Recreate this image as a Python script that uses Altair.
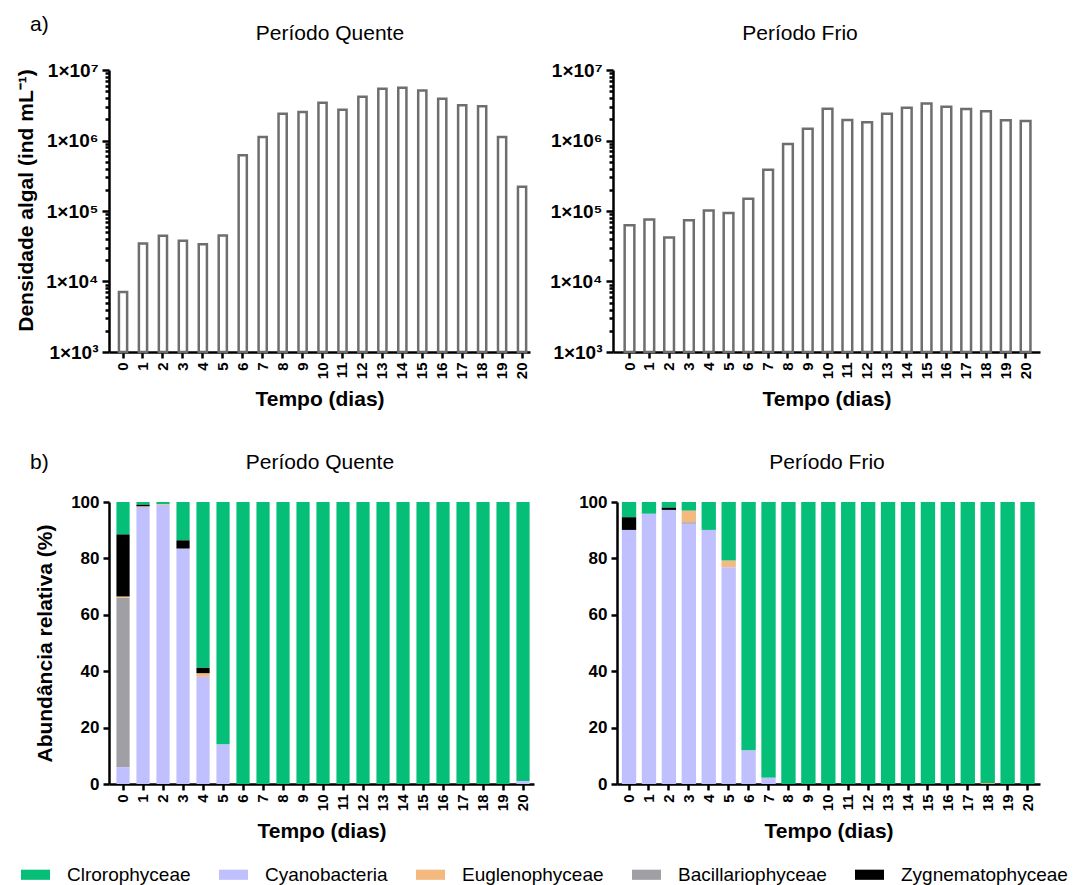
import altair as alt
import pandas as pd

FONT = "Liberation Sans"

# ---------------- data ----------------
dias = list(range(21))

densidade_quente = [7.1e3, 3.45e4, 4.45e4, 3.77e4, 3.38e4, 4.5e4, 6.2e5, 1.12e6, 2.4e6, 2.53e6,
                    3.44e6, 2.73e6, 4.18e6, 5.43e6, 5.61e6, 5.14e6, 3.92e6, 3.15e6, 3.05e6,
                    1.12e6, 2.2e5]
densidade_frio = [6.3e4, 7.6e4, 4.2e4, 7.4e4, 1.02e5, 9.4e4, 1.49e5, 3.85e5, 8.9e5, 1.47e6,
                  2.82e6, 1.95e6, 1.81e6, 2.4e6, 2.92e6, 3.36e6, 3.02e6, 2.79e6, 2.59e6,
                  1.93e6, 1.89e6]

grupos = ["Clrorophyceae", "Cyanobacteria", "Euglenophyceae", "Bacillariophyceae", "Zygnematophyceae"]
cores = ["#05BE78", "#C0C0FF", "#F4B97E", "#A0A0A4", "#000000"]
ordem_pilha = ["Cyanobacteria", "Bacillariophyceae", "Euglenophyceae", "Zygnematophyceae", "Clrorophyceae"]

q_chloro = [11.5, 1.0, 0.7, 13.6, 58.8, 86.0, 100, 100, 100, 100, 100, 100, 100, 100, 100, 100,
            100, 100, 100, 100, 99.0]
q_cyano = [6.0, 98.2, 99.0, 83.5, 38.0, 14.0, 0, 0, 0, 0, 0, 0, 0, 0, 0, 0, 0, 0, 0, 0, 1.0]
q_eugle = [0.5, 0.3, 0.3, 0, 1.3, 0, 0, 0, 0, 0, 0, 0, 0, 0, 0, 0, 0, 0, 0, 0, 0]
q_bacil = [60.0, 0, 0, 0, 0, 0, 0, 0, 0, 0, 0, 0, 0, 0, 0, 0, 0, 0, 0, 0, 0]
q_zygne = [22.0, 0.5, 0, 2.9, 1.9, 0, 0, 0, 0, 0, 0, 0, 0, 0, 0, 0, 0, 0, 0, 0, 0]

f_chloro = [5.4, 4.2, 2.0, 3.1, 9.9, 20.8, 88.1, 97.8, 100, 100, 100, 100, 100, 100, 100, 100,
            100, 100, 99.7, 100, 100]
f_cyano = [90.1, 95.8, 97.2, 92.3, 90.1, 76.9, 11.9, 2.2, 0, 0, 0, 0, 0, 0, 0, 0, 0, 0, 0, 0, 0]
f_eugle = [0, 0, 0, 4.1, 0, 2.3, 0, 0, 0, 0, 0, 0, 0, 0, 0, 0, 0, 0, 0.3, 0, 0]
f_bacil = [0, 0, 0, 0.5, 0, 0, 0, 0, 0, 0, 0, 0, 0, 0, 0, 0, 0, 0, 0, 0, 0]
f_zygne = [4.5, 0, 0.8, 0, 0, 0, 0, 0, 0, 0, 0, 0, 0, 0, 0, 0, 0, 0, 0, 0, 0]

log_ticks = [1000, 10000, 100000, 1000000, 10000000]
log_labels = ["1×10³", "1×10⁴", "1×10⁵", "1×10⁶", "1×10⁷"]
pct_ticks = [0, 20, 40, 60, 80, 100]

# ---------------- helpers ----------------
minor = [k * t for t in log_ticks[:-1] for k in range(2, 10)]
all_log_ticks = sorted(log_ticks + minor)
label_expr = " : ".join(f"datum.value == {v} ? '{l}'" for v, l in zip(log_ticks, log_labels)) + " : ''"
major_test = "indexof([" + ",".join(str(v) for v in log_ticks) + "], datum.value) >= 0"

H = 282


def text_layer(txt, x, y, size=21, weight="normal", align="center"):
    return alt.Chart(pd.DataFrame({"t": [txt]})).mark_text(
        font=FONT, fontSize=size, fontWeight=weight, align=align, baseline="alphabetic", color="black"
    ).encode(text="t:N", x=alt.value(x), y=alt.value(y))


def spacer(x, y1, y2):
    return alt.Chart(pd.DataFrame({"s": [0]})).mark_rule(strokeOpacity=0, strokeWidth=0.01).encode(
        x=alt.value(x), y=alt.value(y1), y2=alt.value(y2)
    )


def x_enc(pi, po, al):
    return alt.X(
        "dia:O",
        scale=alt.Scale(paddingInner=pi, paddingOuter=po, align=al),
        axis=alt.Axis(title="Tempo (dias)", labelAngle=270, labelAlign="right", labelBaseline="middle",
                      labelFontSize=15, labelFontWeight="bold", tickSize=6, labelPadding=4,
                      titlePadding=10),
    )


def density_chart(vals, width, pi, po, al, title, title_x, left, ytitle, corner=None):
    df = pd.DataFrame({"dia": dias, "dens": vals, "base": [log_ticks[0]] * len(dias)})
    kw = dict(values=all_log_ticks, labelExpr=label_expr, labelFontSize=19, labelFontWeight="bold",
              tickSize={"condition": {"test": major_test, "value": 7}, "value": 4},
              labelPadding=4, title=ytitle)
    if ytitle:
        kw.update(titleX=-73, titleY=130)
    bars = alt.Chart(df).mark_bar(fill="white", stroke="#6e6e6e", strokeWidth=2.5).encode(
        x=x_enc(pi, po, al),
        y=alt.Y("dens:Q", scale=alt.Scale(type="log", domain=[1000, 10000000], nice=False),
                axis=alt.Axis(**kw)),
        y2="base:Q",
    )
    layers = [bars, text_layer(title, title_x, -30), spacer(left, -70, 374)]
    if corner:
        layers.append(text_layer(corner, -79, -39, align="left"))
    return alt.layer(*layers).properties(width=width, height=H)


color_enc = alt.Color(
    "grupo:N",
    scale=alt.Scale(domain=grupos, range=cores),
    legend=alt.Legend(
        orient="none", legendX=-88, legendY=790, direction="horizontal", title=None,
        symbolType="M-1,-0.35H1V0.35H-1Z", symbolSize=841, symbolStrokeWidth=0, symbolOpacity=1,
        labelFont=FONT, labelFontSize=19, labelColor="black", labelOffset=17, columnPadding=28,
        labelLimit=400, padding=0,
    ),
)


def comp_chart(cols, width, pi, po, al, title, title_x, left, ytitle, corner=None):
    rows = []
    for g, vals in cols.items():
        for d, v in zip(dias, vals):
            rows.append({"dia": d, "grupo": g, "valor": v, "ord": ordem_pilha.index(g)})
    df = pd.DataFrame(rows)
    kw = dict(values=pct_ticks, labelFontSize=17, labelFontWeight="bold", tickSize=6,
              labelPadding=4, title=ytitle)
    if ytitle:
        kw.update(titleX=-54)
    bars = alt.Chart(df).mark_bar().encode(
        x=x_enc(pi, po, al),
        y=alt.Y("sum(valor):Q", stack="zero", scale=alt.Scale(domain=[0, 100], nice=False),
                axis=alt.Axis(**kw)),
        color=color_enc,
        order=alt.Order("ord:Q", sort="ascending"),
    )
    layers = [bars, text_layer(title, title_x, -33), spacer(left, -58, 10)]
    if corner:
        layers.append(text_layer(corner, -79, -33, align="left"))
    return alt.layer(*layers).properties(width=width, height=H)


TL = density_chart(densidade_quente, 421, 0.59, 0.346, 0.72, "Período Quente", 221, -109,
                   "Densidade algal (ind mL⁻¹)", corner="a)")
TR = density_chart(densidade_frio, 427, 0.51, 0.535, 0.55, "Período Frio", 187, -70, None)

BL = comp_chart({"Clrorophyceae": q_chloro, "Cyanobacteria": q_cyano, "Euglenophyceae": q_eugle,
                 "Bacillariophyceae": q_bacil, "Zygnematophyceae": q_zygne},
                425, 0.34, 0.295, 0.63, "Período Quente", 211, -109, "Abundância relativa (%)", corner="b)")
BR = comp_chart({"Clrorophyceae": f_chloro, "Cyanobacteria": f_cyano, "Euglenophyceae": f_eugle,
                 "Bacillariophyceae": f_bacil, "Zygnematophyceae": f_zygne},
                423, 0.28, 0.254, 0.48, "Período Frio", 210, -70, None)

chart = alt.vconcat(
    alt.hconcat(TL, TR, spacing=13),
    alt.hconcat(BL, BR, spacing=13),
    spacing=0,
).properties(padding=0).configure_view(stroke=None).configure_axis(
    grid=False, domainColor="black", domainWidth=2.5, tickColor="black", tickWidth=2.5,
    labelFont=FONT, titleFont=FONT, labelColor="black", titleColor="black",
    titleFontSize=21, titleFontWeight="bold",
).configure_legend(labelFont=FONT)

chart.save("out.html", embed_options={"renderer": "svg", "actions": False})
